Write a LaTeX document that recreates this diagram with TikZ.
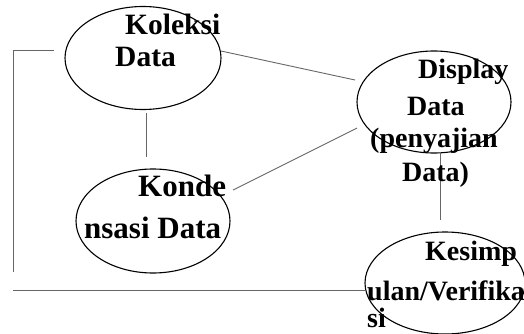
\documentclass[tikz,border=0pt]{standalone}
\usepackage{fontspec}
\setmainfont{Liberation Serif}
\usetikzlibrary{shapes.geometric}
\begin{document}
\begin{tikzpicture}[x=1pt,y=-1pt,
  oval/.style={ellipse,draw=black,line width=1.1pt,inner sep=0pt},
  lbl/.style={anchor=base west,inner sep=0pt,font=\bfseries\fontsize{28}{28}\selectfont},
  lblm/.style={lbl,font=\bfseries\fontsize{29.5}{29.5}\selectfont},
  lblb/.style={lbl,font=\bfseries\fontsize{31}{31}\selectfont},
  conn/.style={draw=black!60,line width=0.9pt}]
\useasboundingbox (0,0) rectangle (524,334);
% ellipses
\node[oval,minimum width=156pt,minimum height=103pt] (kol) at (143,58) {};
\node[oval,minimum width=154pt,minimum height=104pt] (kon) at (153,221) {};
\node[oval,minimum width=154pt,minimum height=102pt] (dis) at (434,102) {};
\node[oval,minimum width=160pt,minimum height=102pt] (kes) at (445,283) {};
% connector end points
\coordinate (a1) at (221,51);
\coordinate (a2) at (355,80);
\coordinate (b1) at (146,113);
\coordinate (b2) at (146,157);
\coordinate (c1) at (233,190);
\coordinate (c2) at (357,128);
\coordinate (d1) at (440,152);
\coordinate (d2) at (440,220);
\coordinate (e1) at (54,50);
\coordinate (e2) at (13,50);
\coordinate (e3) at (13,272);
\coordinate (f1) at (13,290);
\coordinate (f2) at (365,290);
\draw[conn] (a1) -- (a2);
\draw[conn] (b1) -- (b2);
\draw[conn] (c1) -- (c2);
\draw[conn] (d1) -- (d2);
\draw[conn] (e1) -- (e2) -- (e3);
\draw[conn] (f1) -- (f2);
% labels
\node[lblm] (t1) at (125,35) {Koleksi};
\node[lblm] (t2) at (115,67) {Data};
\node[lbl] (t3) at (418,79) {Display};
\node[lbl] (t4) at (407,115) {Data};
\node[lbl] (t5) at (370,147) {(penyajian};
\node[lbl] (t6) at (402,181) {Data)};
\node[lblb] (t7) at (138,196) {Konde};
\node[lblb] (t8) at (84,238) {nsasi Data};
\node[lbl] (t9) at (425,260) {Kesimp};
\node[lbl] (t10) at (367,300) {ulan/Verifika};
\node[lbl] (t11) at (367,327) {si};
\end{tikzpicture}
\end{document}
